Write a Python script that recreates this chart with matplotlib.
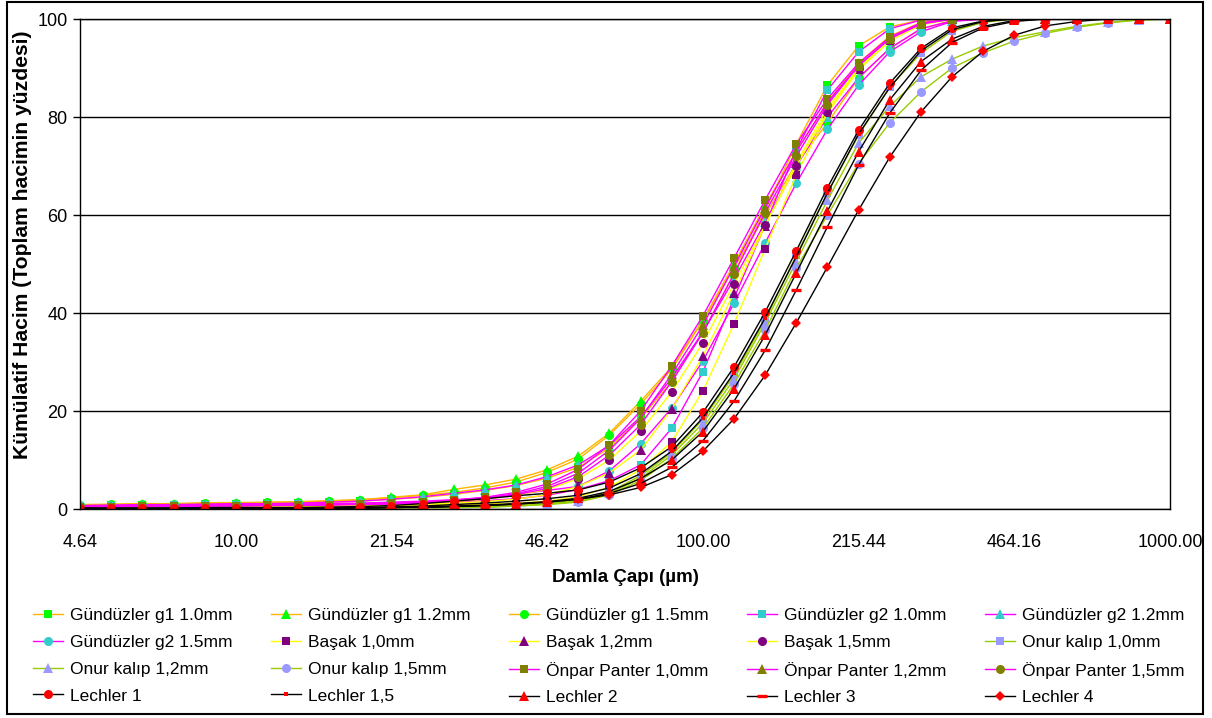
import matplotlib
matplotlib.use("Agg")
import matplotlib.pyplot as plt
from matplotlib.patches import Rectangle

plt.rcParams["font.family"] = ["Liberation Sans", "DejaVu Sans"]

# Droplet diameter classes (um), log-spaced categories
sizes = [4.64, 5.41, 6.31, 7.36, 8.58, 10.00, 11.66, 13.59, 15.85, 18.48,
         21.54, 25.12, 29.29, 34.15, 39.81, 46.42, 54.12, 63.10, 73.56, 85.77,
         100.00, 116.59, 135.94, 158.49, 184.78, 215.44, 251.19, 292.87, 341.46, 398.11,
         464.16, 541.17, 630.96, 735.64, 857.70, 1000.00]
tick_labels = ["4.64", "10.00", "21.54", "46.42", "100.00", "215.44", "464.16", "1000.00"]
tick_values = [4.64, 10.0, 21.54, 46.42, 100.0, 215.44, 464.16, 1000.0]

g1_10 = [0.7, 0.8, 0.9, 0.9, 1.0, 1.1, 1.2, 1.3, 1.4, 1.6, 2.0, 2.4, 3.0, 3.8, 4.8, 6.3, 8.5, 12.5,
         18.5, 26.0, 36.0, 48.0, 61.0, 74.5, 86.5, 94.5, 98.4, 99.8, 100, 100, 100, 100, 100, 100, 100, 100]
g1_12 = [0.8, 0.9, 1.0, 1.0, 1.1, 1.2, 1.3, 1.4, 1.6, 1.9, 2.4, 2.9, 4.0, 4.9, 6.1, 8.0, 10.8, 15.5,
         22.0, 29.0, 38.5, 50.0, 62.0, 73.0, 83.0, 91.0, 96.5, 99.3, 100, 100, 100, 100, 100, 100, 100, 100]
g1_15 = [0.9, 1.0, 1.1, 1.1, 1.3, 1.3, 1.4, 1.5, 1.7, 1.9, 2.3, 2.8, 3.4, 4.3, 5.5, 7.5, 10.2, 15.1,
         21.4, 28.5, 38.5, 49.2, 60.0, 70.5, 78.8, 87.9, 94.0, 98.0, 99.7, 100, 100, 100, 100, 100, 100, 100]
g2_10 = [0.6, 0.7, 0.7, 0.8, 0.8, 0.9, 0.9, 1.0, 1.0, 1.1, 1.2, 1.3, 1.5, 1.7, 2.1, 2.8, 4.0, 5.8,
         9.0, 16.5, 28.0, 43.0, 58.0, 73.3, 85.5, 93.3, 98.0, 99.8, 100, 100, 100, 100, 100, 100, 100, 100]
g2_12 = [0.7, 0.8, 0.9, 0.9, 1.0, 1.1, 1.1, 1.2, 1.4, 1.6, 2.0, 2.5, 3.2, 3.9, 4.9, 6.6, 9.0, 13.0,
         18.8, 26.7, 36.1, 46.9, 58.5, 70.0, 80.0, 88.0, 94.0, 98.0, 99.6, 100, 100, 100, 100, 100, 100, 100]
g2_15 = [0.6, 0.7, 0.7, 0.8, 0.8, 0.9, 1.0, 1.0, 1.1, 1.2, 1.4, 1.6, 1.9, 2.3, 3.0, 3.8, 4.6, 7.8,
         13.3, 20.6, 30.2, 42.0, 54.3, 66.5, 77.5, 86.5, 93.3, 97.4, 99.5, 100, 100, 100, 100, 100, 100, 100]
basak_10 = [0.3, 0.3, 0.4, 0.4, 0.4, 0.5, 0.5, 0.5, 0.6, 0.6, 0.7, 0.8, 0.9, 1.0, 1.2, 1.6, 2.5, 4.5,
            8.0, 13.7, 24.1, 37.8, 53.1, 68.2, 80.8, 89.6, 95.5, 98.8, 100, 100, 100, 100, 100, 100, 100, 100]
basak_12 = [0.3, 0.4, 0.4, 0.4, 0.5, 0.5, 0.6, 0.6, 0.7, 0.8, 0.9, 1.0, 1.2, 1.5, 2.0, 2.9, 4.6, 7.4,
            12.0, 20.4, 31.2, 44.1, 57.8, 70.6, 81.8, 90.0, 96.0, 99.0, 100, 100, 100, 100, 100, 100, 100, 100]
basak_15 = [0.4, 0.4, 0.5, 0.5, 0.6, 0.6, 0.7, 0.7, 0.8, 0.9, 1.0, 1.2, 1.5, 2.0, 2.8, 4.0, 6.2, 10.0,
            15.9, 23.9, 33.9, 45.9, 58.0, 70.0, 81.0, 90.0, 96.0, 99.0, 100, 100, 100, 100, 100, 100, 100, 100]
onur_10 = [0.1, 0.1, 0.1, 0.1, 0.1, 0.2, 0.2, 0.2, 0.2, 0.2, 0.3, 0.3, 0.3, 0.4, 0.7, 1.1, 1.8, 3.5,
           6.8, 11.5, 18.3, 27.3, 38.6, 51.8, 64.5, 76.3, 86.1, 93.0, 97.5, 99.3, 100, 100, 100, 100, 100, 100]
onur_12 = [0.1, 0.1, 0.1, 0.1, 0.1, 0.2, 0.2, 0.2, 0.2, 0.2, 0.3, 0.3, 0.3, 0.4, 0.6, 1.0, 1.6, 3.2,
           6.3, 11.0, 17.5, 26.5, 38.0, 50.5, 63.0, 74.7, 82.2, 88.2, 91.8, 94.5, 96.2, 97.4, 98.5, 99.3, 99.8, 100]
onur_15 = [0.1, 0.1, 0.1, 0.1, 0.1, 0.1, 0.2, 0.2, 0.2, 0.2, 0.2, 0.3, 0.3, 0.4, 0.6, 0.9, 1.4, 2.9,
           5.8, 10.3, 16.5, 25.5, 36.5, 49.2, 60.0, 70.5, 78.8, 85.1, 90.0, 93.1, 95.5, 97.1, 98.3, 99.2, 99.8, 100]
onpar_10 = [0.5, 0.5, 0.6, 0.6, 0.7, 0.7, 0.8, 0.8, 0.9, 1.0, 1.2, 1.4, 1.8, 2.4, 3.4, 5.1, 8.1, 13.1,
            20.0, 29.2, 39.4, 51.2, 63.1, 74.5, 83.7, 91.0, 96.3, 99.2, 100, 100, 100, 100, 100, 100, 100, 100]
onpar_12 = [0.5, 0.5, 0.5, 0.6, 0.6, 0.7, 0.7, 0.8, 0.9, 1.0, 1.1, 1.3, 1.7, 2.2, 3.1, 4.6, 7.3, 12.0,
            18.5, 27.5, 37.5, 49.5, 61.5, 73.0, 83.0, 90.5, 96.0, 99.0, 100, 100, 100, 100, 100, 100, 100, 100]
onpar_15 = [0.4, 0.5, 0.5, 0.5, 0.6, 0.6, 0.7, 0.7, 0.8, 0.9, 1.0, 1.2, 1.6, 2.1, 2.9, 4.2, 6.6, 11.0,
            17.2, 26.0, 36.0, 48.0, 60.5, 72.0, 82.5, 90.5, 96.0, 99.0, 100, 100, 100, 100, 100, 100, 100, 100]
lech_1 = [0.2, 0.2, 0.2, 0.2, 0.3, 0.3, 0.3, 0.3, 0.4, 0.5, 0.7, 1.1, 1.6, 2.1, 2.7, 3.2, 3.9, 5.5,
          8.4, 12.7, 19.7, 29.0, 40.2, 52.7, 65.6, 77.3, 86.9, 94.0, 98.2, 99.6, 100, 100, 100, 100, 100, 100]
lech_15 = [0.1, 0.1, 0.1, 0.1, 0.2, 0.2, 0.2, 0.2, 0.2, 0.3, 0.4, 0.6, 0.9, 1.2, 1.6, 2.1, 2.8, 4.3,
           7.2, 11.8, 18.6, 27.8, 39.0, 51.5, 64.5, 76.5, 86.0, 93.5, 97.8, 99.5, 100, 100, 100, 100, 100, 100]
lech_2 = [0.1, 0.1, 0.1, 0.1, 0.1, 0.1, 0.1, 0.2, 0.2, 0.2, 0.3, 0.4, 0.6, 0.8, 1.1, 1.5, 2.2, 3.6,
          6.2, 10.0, 15.8, 24.5, 35.5, 48.2, 60.8, 72.9, 83.5, 91.3, 95.9, 98.5, 99.7, 100, 100, 100, 100, 100]
lech_3 = [0.1, 0.1, 0.1, 0.1, 0.1, 0.1, 0.1, 0.1, 0.2, 0.2, 0.3, 0.4, 0.5, 0.7, 1.0, 1.4, 2.0, 3.2,
          5.2, 8.5, 13.9, 22.0, 32.4, 44.7, 57.6, 70.2, 80.8, 89.5, 95.2, 98.2, 99.5, 100, 100, 100, 100, 100]
lech_4 = [0.1, 0.1, 0.1, 0.1, 0.1, 0.1, 0.1, 0.1, 0.2, 0.2, 0.3, 0.3, 0.5, 0.7, 1.0, 1.4, 2.0, 2.9,
          4.4, 7.0, 11.8, 18.4, 27.3, 38.0, 49.4, 61.0, 71.8, 81.0, 88.2, 93.4, 96.7, 98.6, 99.5, 100, 100, 100]

labels = ["Gündüzler g1 1.0mm", "Gündüzler g1 1.2mm", "Gündüzler g1 1.5mm",
          "Gündüzler g2 1.0mm", "Gündüzler g2 1.2mm", "Gündüzler g2 1.5mm",
          "Başak 1,0mm", "Başak 1,2mm", "Başak 1,5mm",
          "Onur kalıp 1,0mm", "Onur kalıp 1,2mm", "Onur kalıp 1,5mm",
          "Önpar Panter 1,0mm", "Önpar Panter 1,2mm", "Önpar Panter 1,5mm",
          "Lechler 1", "Lechler 1,5", "Lechler 2", "Lechler 3", "Lechler 4"]
series = [g1_10, g1_12, g1_15, g2_10, g2_12, g2_15, basak_10, basak_12, basak_15,
          onur_10, onur_12, onur_15, onpar_10, onpar_12, onpar_15,
          lech_1, lech_15, lech_2, lech_3, lech_4]

ORANGE, MAGENTA, YELLOW, YGREEN, BLACK = "#FFB400", "#FF00FF", "#FFFF00", "#99CC00", "#000000"
LIME, TURQ, PURPLE, LAV, OLIVE, RED = "#00FF00", "#33CCCC", "#800080", "#9999FF", "#808000", "#FF0000"
styles = [
    (ORANGE, LIME, "s", 5.8), (ORANGE, LIME, "^", 7), (ORANGE, LIME, "o", 6.5),
    (MAGENTA, TURQ, "s", 5.8), (MAGENTA, TURQ, "^", 7), (MAGENTA, TURQ, "o", 6.5),
    (YELLOW, PURPLE, "s", 5.8), (YELLOW, PURPLE, "^", 7), (YELLOW, PURPLE, "o", 6.5),
    (YGREEN, LAV, "s", 5.8), (YGREEN, LAV, "^", 7), (YGREEN, LAV, "o", 6.5),
    (MAGENTA, OLIVE, "s", 5.8), (MAGENTA, OLIVE, "^", 7), (MAGENTA, OLIVE, "o", 6.5),
    (BLACK, RED, "o", 6.5), (BLACK, RED, "s", 3.5), (BLACK, RED, "^", 7),
    (BLACK, RED, "_", 7.5), (BLACK, RED, "D", 5),
]

fig = plt.figure(figsize=(12.12, 7.18), dpi=100)
fig.patch.set_facecolor("white")
ax = fig.add_axes([80 / 1212, 209 / 718, 1090 / 1212, 490 / 718])

handles = []
for vals, lab, (lc, mc, mk, ms) in zip(series, labels, styles):
    mew = 2.4 if mk == "_" else 0
    ln, = ax.plot(sizes, vals, color=lc, lw=1.0, marker=mk, ms=ms, markeredgewidth=mew,
                  markerfacecolor=mc, markeredgecolor=mc, label=lab)
    handles.append(ln)

ax.set_xscale("log")
ax.set_xlim(sizes[0], sizes[-1])
ax.set_ylim(0, 100)
ax.set_xticks(tick_values)
ax.set_xticklabels(tick_labels)
ax.xaxis.set_minor_locator(matplotlib.ticker.NullLocator())
ax.tick_params(axis="x", length=0, pad=18, labelsize=13)
ax.tick_params(axis="y", length=5, width=1, direction="out", labelsize=13, pad=4)
ax.set_yticks([0, 20, 40, 60, 80, 100])
ax.yaxis.grid(True, color="black", lw=1.0)
ax.set_axisbelow(True)
for sp in ax.spines.values():
    sp.set_color("black")
    sp.set_linewidth(1.0)

ax.set_xlabel("Damla Çapı (µm)", fontsize=13.5, fontweight="bold", labelpad=13)
ax.set_ylabel("Kümülatif Hacim (Toplam hacimin yüzdesi)", fontsize=15.2, fontweight="bold")
ax.yaxis.set_label_coords(-48 / 1090, (509 - 245) / 490)

# Legend: one legend per column so the columns sit at the source's even spacing
ncol, nrow = 5, 4
col_x = [33, 271, 509, 747, 985]
for c in range(ncol):
    idx = [r * ncol + c for r in range(nrow)]
    fig.legend([handles[i] for i in idx], [labels[i] for i in idx],
               loc="upper left", bbox_to_anchor=(col_x[c] / 1212, 1 - 608 / 718),
               frameon=False, fontsize=12.5, handlelength=1.75, handletextpad=0.4,
               labelspacing=0.67, borderpad=0, borderaxespad=0)

# Outer chart border
fig.add_artist(Rectangle((7 / 1212, 4 / 718), 1196 / 1212, 712 / 718, transform=fig.transFigure,
                         fill=False, edgecolor="black", lw=1.5))

fig.savefig("out.png", dpi=100, facecolor="white")
